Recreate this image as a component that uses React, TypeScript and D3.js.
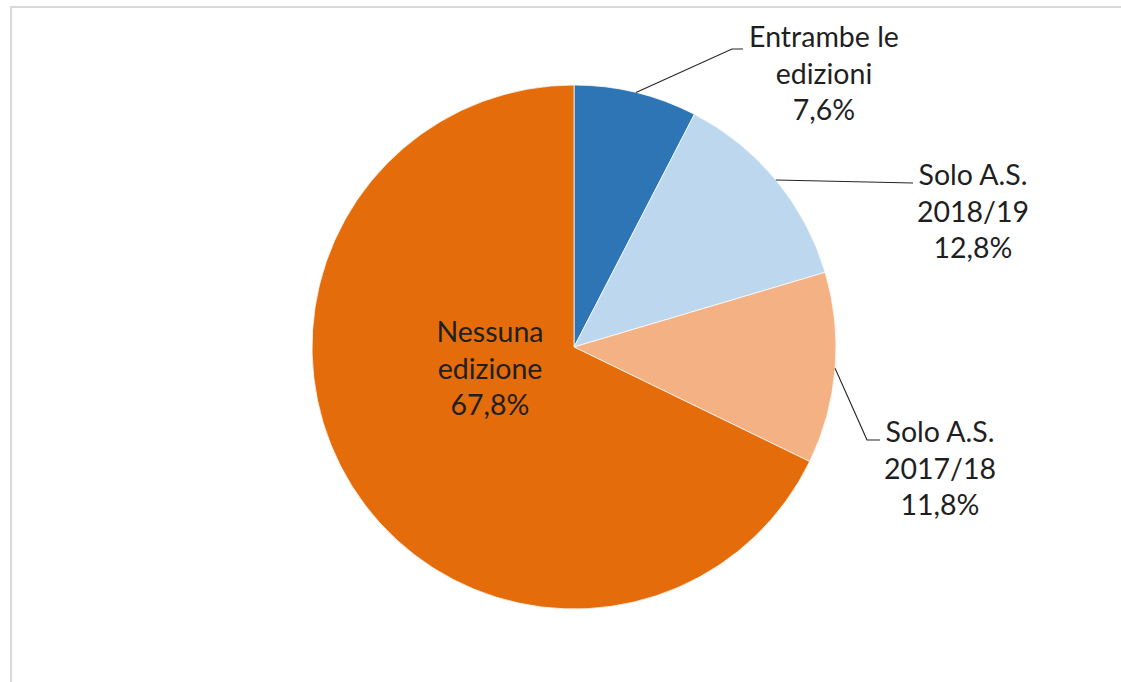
import React from "react";
import * as d3 from "d3";

const categories = ["Entrambe le edizioni", "Solo A.S. 2018/19", "Solo A.S. 2017/18", "Nessuna edizione"];
const labelLines = [
  ["Entrambe le", "edizioni", "7,6%"],
  ["Solo A.S.", "2018/19", "12,8%"],
  ["Solo A.S.", "2017/18", "11,8%"],
  ["Nessuna", "edizione", "67,8%"],
];
const values = [7.6, 12.8, 11.8, 67.8];
const colors = ["#2E75B6", "#BDD7EE", "#F4B183", "#E46C0A"];

const W = 1121;
const H = 682;
const cx = 574;
const cy = 347;
const R = 262;
const FONT = "Lato, 'Open Sans', sans-serif";
const FS = 28.5;
const LH = 36.5;

// label layout: text centre (relative to pie centre) and leader elbow
const labelLayout = [
  { dx: 250, dy: -300, elbow: [158, -298], end: [169, -298] },
  { dx: 399, dy: -162, elbow: null, end: [339, -164] },
  { dx: 366, dy: 95, elbow: [293, 93], end: [306, 93] },
  { dx: -84, dy: -5, elbow: null, end: null },
];

export default function App() {
  const pie = d3.pie<number>().sort(null).value((d) => d)(values);
  const arc = d3.arc<d3.PieArcDatum<number>>().innerRadius(0).outerRadius(R);

  return (
    <svg
      width={W}
      height={H}
      style={{ position: "absolute", left: 0, top: 0, background: "#fff" }}
      fontFamily={FONT}
    >
      <rect x={0} y={0} width={W} height={H} fill="#fff" />
      <line x1={10} y1={7} x2={W} y2={7} stroke="#d9d9d9" strokeWidth={2} />
      <line x1={11} y1={6} x2={11} y2={H} stroke="#d9d9d9" strokeWidth={2} />
      <g transform={`translate(${cx},${cy})`}>
        {pie.map((p, i) => (
          <path key={categories[i]} d={arc(p) || ""} fill={colors[i]} stroke="#fff" strokeWidth={0.75} />
        ))}
        {pie.map((p, i) => {
          const L = labelLayout[i];
          if (!L.end) return null;
          const mid = (p.startAngle + p.endAngle) / 2;
          const sx = Math.sin(mid) * R;
          const sy = -Math.cos(mid) * R;
          const pts: [number, number][] = [[sx, sy]];
          if (L.elbow) pts.push(L.elbow as [number, number]);
          pts.push(L.end as [number, number]);
          return (
            <path
              key={"l" + i}
              d={d3.line()(pts) || ""}
              fill="none"
              stroke="#262626"
              strokeWidth={1.2}
            />
          );
        })}
        {pie.map((p, i) => {
          const L = labelLayout[i];
          return (
            <text
              key={"t" + i}
              x={L.dx}
              y={L.dy}
              textAnchor="middle"
              fontSize={FS}
              fill="#1f1f1f"
            >
              {labelLines[i].map((s, j) => (
                <tspan key={j} x={L.dx} y={L.dy + j * LH}>
                  {s}
                </tspan>
              ))}
            </text>
          );
        })}
      </g>
    </svg>
  );
}
